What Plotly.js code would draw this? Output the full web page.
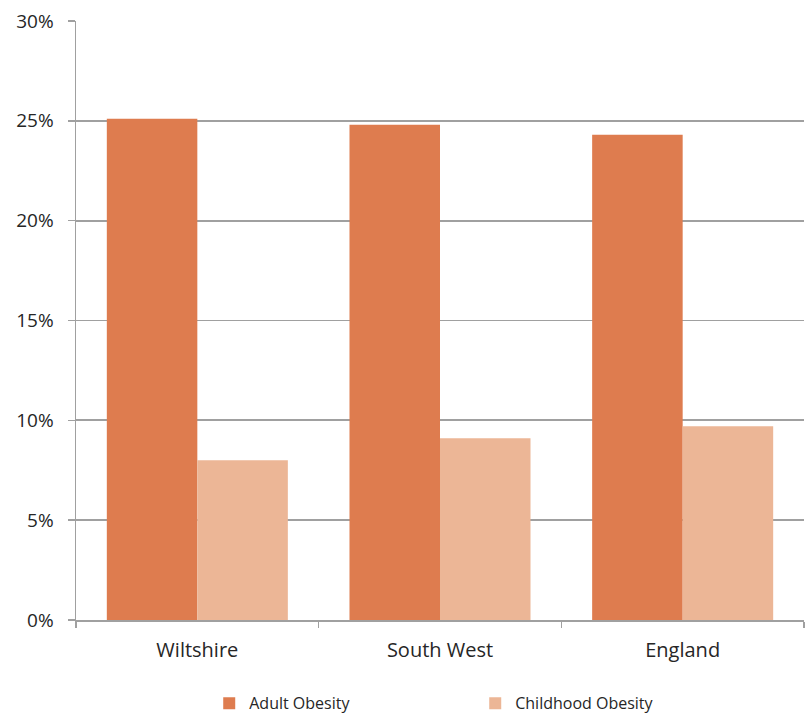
<!DOCTYPE html>
<html>
<head>
<meta charset="utf-8">
<script src="https://cdn.plot.ly/plotly-3.0.1.min.js"></script>
<style>html,body{margin:0;padding:0;background:#fff;}</style>
</head>
<body>
<div id="chart" style="width:808px;height:715px;"></div>
<script>
const categories = ["Wiltshire", "South West", "England"];
const adultObesity = [0.251, 0.248, 0.243];
const childhoodObesity = [0.080, 0.091, 0.097];
const yTickValues = [0, 0.05, 0.10, 0.15, 0.20, 0.25, 0.30];
const yTickLabels = ["0%", "5%", "10%", "15%", "20%", "25%", "30%"];

const fontFam = "'Open Sans', 'Noto Sans', sans-serif";

const data = [
  {
    type: "bar",
    name: "Adult Obesity",
    x: categories,
    y: adultObesity,
    marker: { color: "#DE7C4F" },
    hoverinfo: "none"
  },
  {
    type: "bar",
    name: "Childhood Obesity",
    x: categories,
    y: childhoodObesity,
    marker: { color: "#ECB696" },
    hoverinfo: "none"
  }
];

const layout = {
  width: 808,
  height: 715,
  margin: { l: 76, r: 4, t: 21, b: 95, autoexpand: false },
  paper_bgcolor: "#ffffff",
  plot_bgcolor: "#ffffff",
  barmode: "group",
  bargap: 0.254,
  bargroupgap: 0,
  font: { family: fontFam, color: "#262626" },
  showlegend: true,
  legend: {
    orientation: "h",
    x: 0.183,
    xanchor: "left",
    y: -0.139,
    yanchor: "middle",
    entrywidth: 221,
    entrywidthmode: "pixels",
    font: { family: fontFam, size: 16, color: "#262626" },
    bgcolor: "rgba(0,0,0,0)"
  },
  xaxis: {
    type: "category",
    showgrid: false,
    showline: true,
    linecolor: "#A0A0A0",
    linewidth: 1.5,
    ticks: "outside",
    tickson: "boundaries",
    ticklen: 6,
    tickcolor: "#A0A0A0",
    tickwidth: 1.5,
    tickfont: { family: fontFam, size: 20, color: "#262626" },
    ticklabelstandoff: 11,
    fixedrange: true
  },
  yaxis: {
    range: [0, 0.30],
    tickvals: yTickValues,
    ticktext: yTickLabels,
    showgrid: true,
    gridcolor: "#A0A0A0",
    gridwidth: 1.8,
    showline: true,
    linecolor: "#A0A0A0",
    linewidth: 1.5,
    ticks: "outside",
    ticklen: 7,
    tickcolor: "#A0A0A0",
    tickwidth: 1.5,
    tickfont: { family: fontFam, size: 19, color: "#262626" },
    ticklabelstandoff: 10,
    zeroline: false,
    fixedrange: true
  }
};

Plotly.newPlot("chart", data, layout, { displayModeBar: false, staticPlot: true });
</script>
</body>
</html>
